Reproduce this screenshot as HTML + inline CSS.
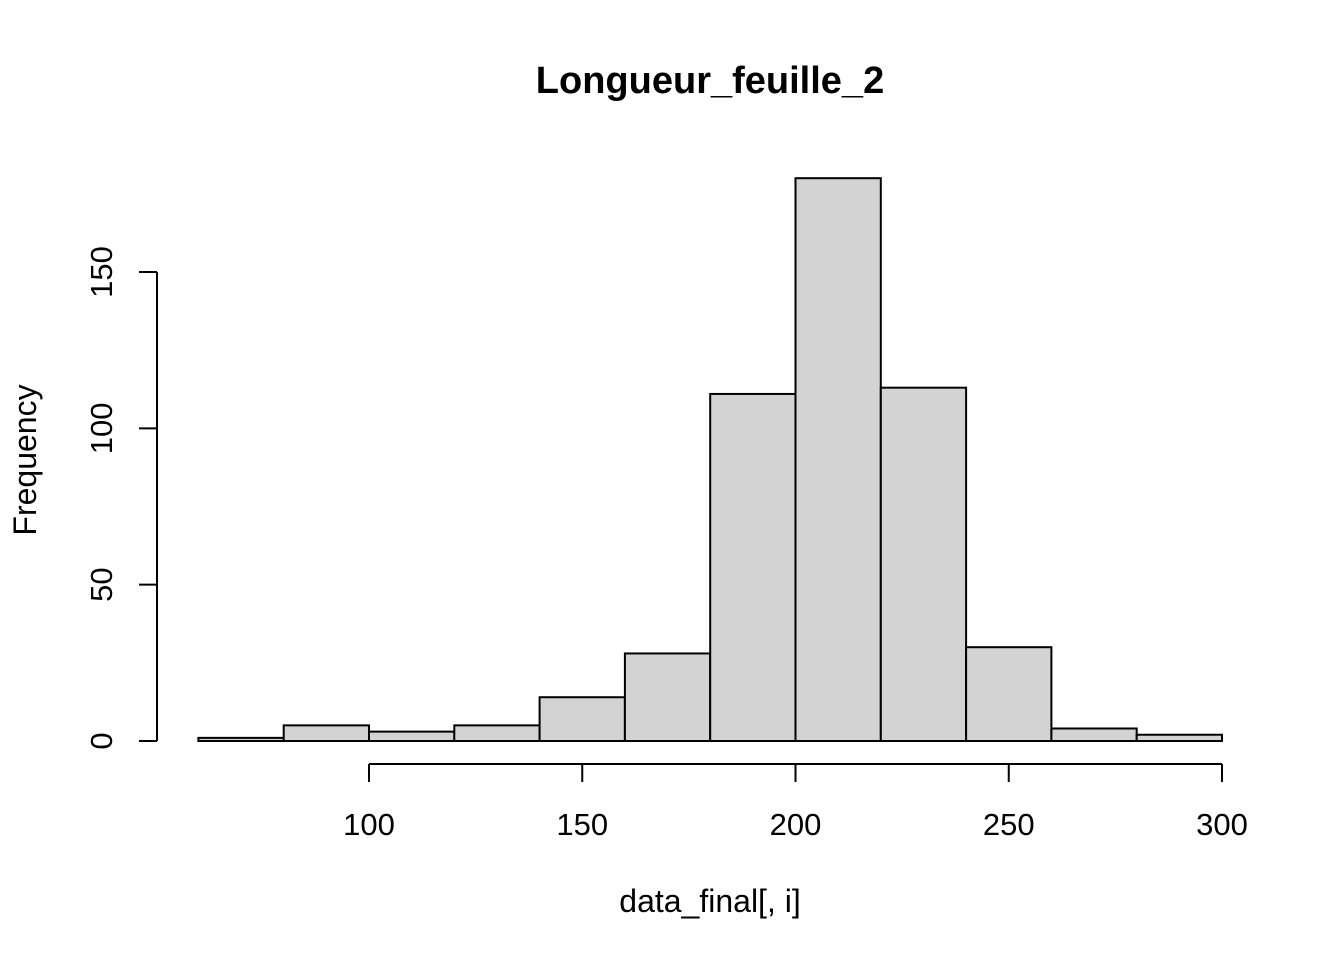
<!DOCTYPE html>
<html><head><meta charset="utf-8"><style>
html,body{margin:0;padding:0;background:#fff;}
svg{display:block;font-family:"Liberation Sans",Arial,sans-serif;}
</style></head><body>
<svg id="chart" width="1344" height="960" viewBox="0 0 1344 960">
<text x="710" y="93" text-anchor="middle" font-size="38" font-weight="bold">Longueur_feuille_2</text>
<text x="710" y="912" text-anchor="middle" font-size="32">data_final[, i]</text>
<text transform="translate(36,460) rotate(-90)" text-anchor="middle" font-size="32">Frequency</text>
<g id="bars"></g>
<g id="xaxis"></g>
<g id="yaxis"></g>
</svg>
<script>
const binStarts = [60,80,100,120,140,160,180,200,220,240,260,280];
const binWidth = 20;
const counts = [1,5,3,5,14,28,111,180,113,30,4,2];
const xTicks = [100,150,200,250,300];
const yTicks = [0,50,100,150];

const ns = "http://www.w3.org/2000/svg";
function xs(v){ return 369 + (v-100)*(1222-369)/200; }
function ys(v){ return 741 - v*(741-272)/150; }
function mk(tag, attrs, parent){
  const e = document.createElementNS(ns, tag);
  for (const k in attrs) e.setAttribute(k, attrs[k]);
  parent.appendChild(e); return e;
}
const bars = document.getElementById('bars');
binStarts.forEach((b,i)=>{
  const x0 = xs(b), x1 = xs(b+binWidth), y = ys(counts[i]);
  const r = mk('rect',{x:x0,y:y,width:x1-x0,height:ys(0)-y,fill:'#d3d3d3',stroke:'#000','stroke-width':2},bars);
  
  
});
const xa = document.getElementById('xaxis');
const xl = mk('line',{x1:xs(xTicks[0]),x2:xs(xTicks[xTicks.length-1]),y1:764,y2:764,stroke:'#000','stroke-width':2},xa);


xTicks.forEach(t=>{
  mk('line',{x1:xs(t),x2:xs(t),y1:764,y2:782,stroke:'#000','stroke-width':2},xa);
  const tx = mk('text',{x:xs(t),y:835,'text-anchor':'middle','font-size':31},xa);
  tx.textContent = t;
  
  
});
const ya = document.getElementById('yaxis');
const yl = mk('line',{x1:157,x2:157,y1:ys(yTicks[0]),y2:ys(yTicks[yTicks.length-1]),stroke:'#000','stroke-width':2},ya);


yTicks.forEach(t=>{
  mk('line',{x1:139,x2:157,y1:ys(t),y2:ys(t),stroke:'#000','stroke-width':2},ya);
  const tx = mk('text',{transform:'translate(112,'+ys(t)+') rotate(-90)','text-anchor':'middle','font-size':31},ya);
  tx.textContent = t;
  
  
});
</script>
</body></html>
